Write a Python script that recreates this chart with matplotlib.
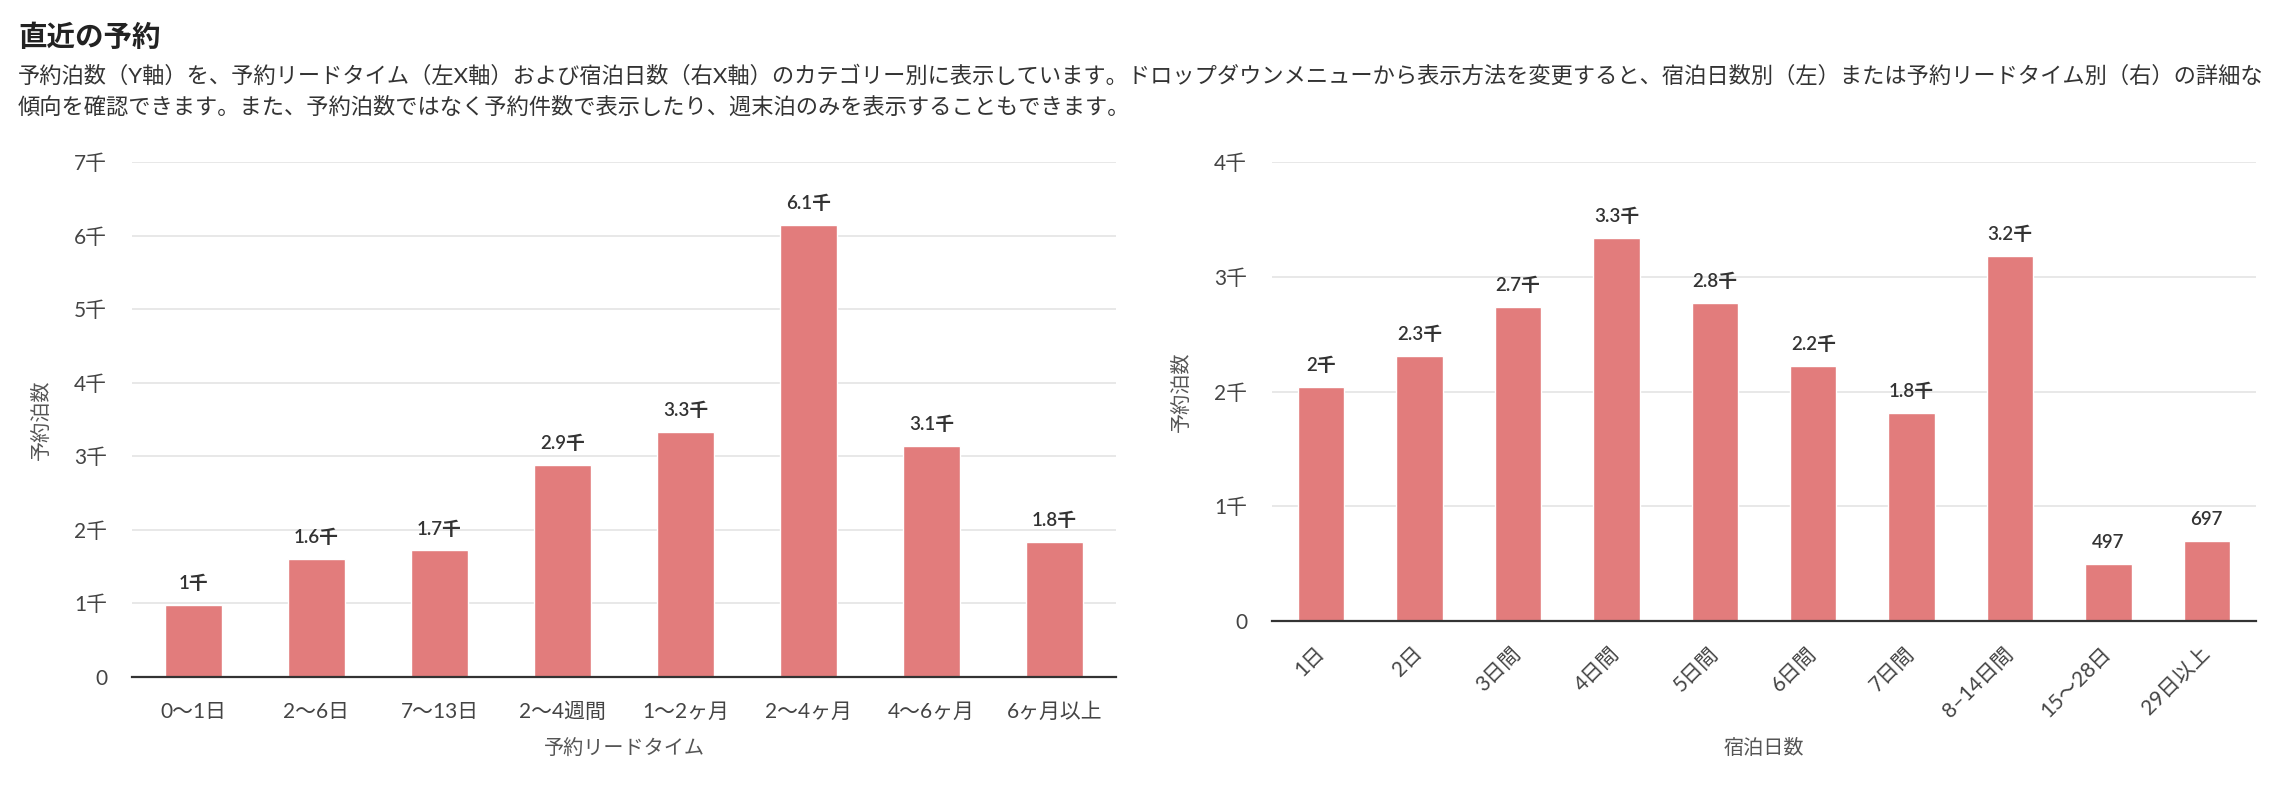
import matplotlib
matplotlib.use("Agg")
import matplotlib.pyplot as plt

plt.rcParams['font.family'] = ['Lato', 'Noto Sans CJK JP', 'DejaVu Sans']

# data
lead_cats = ['0〜1日', '2〜6日', '7〜13日', '2〜4週間', '1〜2ヶ月', '2〜4ヶ月', '4〜6ヶ月', '6ヶ月以上']
lead_vals = [980, 1610, 1720, 2880, 3330, 6140, 3140, 1840]

stay_cats = ['1日', '2日', '3日間', '4日間', '5日間', '6日間', '7日間', '8–14日間', '15〜28日', '29日以上']
stay_vals = [2040, 2310, 2740, 3340, 2770, 2220, 1810, 3180, 497, 697]

title = '直近の予約'
desc1 = ('予約泊数（Y軸）を、予約リードタイム（左X軸）および宿泊日数（右X軸）のカテゴリー別に表示しています。'
         'ドロップダウンメニューから表示方法を変更すると、宿泊日数別（左）または予約リードタイム別（右）の詳細な')
desc2 = '傾向を確認できます。また、予約泊数ではなく予約件数で表示したり、週末泊のみを表示することもできます。'

BAR = '#e27c7c'
GRID = '#e6e6e6'
TXT = '#444444'

W, H = 2296, 786


def fmt(v):
    k = round(v / 1000, 1)
    if k < 1:
        return str(v)
    s = f'{k:.1f}'.rstrip('0').rstrip('.')
    return s + '千'


def draw(ax, cats, vals, ymax, rotate, xlabel, xlabel_y):
    x = list(range(len(cats)))
    bars = ax.bar(x, vals, width=0.47, color=BAR, edgecolor='white', linewidth=1.0, zorder=3)
    for b, v in zip(bars, vals):
        ax.annotate(fmt(v), (b.get_x() + b.get_width() / 2, v), xytext=(0, 15.5),
                    textcoords='offset points', ha='center', va='center',
                    fontsize=13.5, fontweight='semibold', color='#333333')
    ax.set_xlim(-0.5, len(cats) - 0.5)
    ax.set_ylim(0, ymax)
    ticks = list(range(0, ymax + 1, 1000))
    ax.set_yticks(ticks)
    ax.set_yticklabels(['0' if t == 0 else f'{t // 1000}千' for t in ticks])
    ax.set_xticks(x)
    if rotate:
        ax.set_xticklabels(cats, rotation=45, ha='right', va='center', rotation_mode='anchor')
        ax.tick_params(axis='x', pad=21)
    else:
        ax.set_xticklabels(cats)
        ax.tick_params(axis='x', pad=18)
    ax.tick_params(axis='both', length=0, labelsize=15, labelcolor=TXT)
    ax.tick_params(axis='y', pad=18)
    ax.yaxis.grid(True, color=GRID, linewidth=1.3)
    ax.set_axisbelow(True)
    for s in ['top', 'left', 'right']:
        ax.spines[s].set_visible(False)
    ax.spines['bottom'].set_color('#333333')
    ax.spines['bottom'].set_linewidth(1.6)
    ax.spines['bottom'].set_zorder(4)
    ax.set_ylabel('予約泊数', fontsize=14.5, color='#555555')
    ax.yaxis.set_label_coords(-0.083, 0.5)
    ax.set_xlabel(xlabel, fontsize=14.5, color='#555555')
    ax.xaxis.set_label_coords(0.5, xlabel_y)
    ax.xaxis.label.set_va('center')


fig = plt.figure(figsize=(W / 100, H / 100), dpi=100)

ax1 = fig.add_axes([132 / W, (H - 677) / H, 984 / W, (677 - 162) / H])
draw(ax1, lead_cats, lead_vals, 7000, False, '予約リードタイム', (677 - 748) / (677 - 162))

ax2 = fig.add_axes([1272 / W, (H - 621) / H, 984 / W, (621 - 162) / H])
draw(ax2, stay_cats, stay_vals, 4000, True, '宿泊日数', (621 - 748) / (621 - 162))

fig.text(18 / W, 1 - 37 / H, title, fontsize=20.5, fontweight='bold', color='#222222', va='center')
fig.text(18 / W, 1 - 76 / H, desc1, fontsize=16, color='#333333', va='center')
fig.text(18 / W, 1 - 107 / H, desc2, fontsize=16, color='#333333', va='center')

fig.savefig('out.png', dpi=100, facecolor='white')
